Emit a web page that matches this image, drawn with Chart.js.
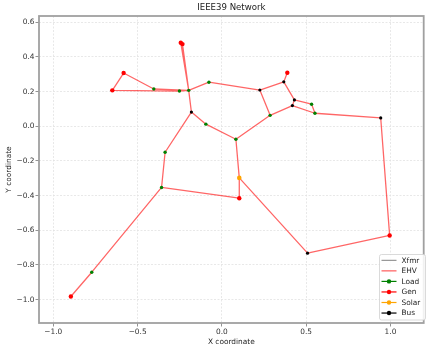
<!DOCTYPE html>
<html>
<head>
<meta charset="utf-8">
<script src="https://cdn.jsdelivr.net/npm/chart.js@4.4.1/dist/chart.umd.min.js"></script>
<style>
  html, body { margin: 0; padding: 0; background: #fff; }
</style>
</head>
<body>
<canvas id="network" width="426" height="344"></canvas>
<script>
// node positions, one pair of arrays per node type
const genX = [-0.650, -0.583, -0.244, -0.234, 0.388, 0.103, 0.995, -0.896];
const genY = [0.207, 0.307, 0.482, 0.474, 0.309, -0.415, -0.630, -0.982];
const loadX = [-0.404, -0.252, -0.197, -0.077, -0.095, -0.337, -0.358, -0.772, 0.083, 0.286, 0.532, 0.552];
const loadY = [0.215, 0.203, 0.207, 0.254, 0.012, -0.150, -0.353, -0.842, -0.075, 0.063, 0.127, 0.075];
const solarX = [0.103];
const solarY = [-0.298];
const busX = [-0.181, 0.225, 0.367, 0.430, 0.418, 0.942, 0.508];
const busY = [0.082, 0.209, 0.256, 0.152, 0.119, 0.048, -0.732];

// branches as pairs of node ids (G = gen, L = load, S = solar, B = bus, 1-based)
const ehvLines = [
	["G1", "G2"], ["G2", "L1"], ["L1", "L3"], ["G1", "L2"], ["L2", "L3"],
	["G3", "L3"], ["G4", "L3"], ["L3", "B1"], ["L3", "L4"], ["L4", "B2"],
	["B2", "B3"], ["B3", "G5"], ["B3", "B4"], ["B2", "L10"], ["L10", "B5"],
	["B4", "B5"], ["B4", "L11"], ["L11", "L12"], ["B5", "L12"], ["L12", "B6"],
	["B6", "G7"], ["G7", "B7"], ["B7", "S1"], ["S1", "G6"], ["S1", "L9"],
	["L10", "L9"], ["L9", "L5"], ["L5", "B1"], ["B1", "L6"], ["L6", "L7"],
	["L7", "G6"], ["L7", "L8"], ["L8", "G8"],
];
const xfmrLines = [];

const xTicks = [-1.0, -0.5, 0.0, 0.5, 1.0];
const yTicks = [-1.0, -0.8, -0.6, -0.4, -0.2, 0.0, 0.2, 0.4, 0.6];

const nodeTable = {
	G: [genX, genY],
	L: [loadX, loadY],
	S: [solarX, solarY],
	B: [busX, busY],
};

function node(id) {
	const [xs, ys] = nodeTable[id[0]];
	const i = parseInt(id.slice(1), 10) - 1;
	return { x: xs[i], y: ys[i] };
}

function points(xs, ys) {
	return xs.map((x, i) => ({ x: x, y: ys[i] }));
}

// every branch becomes two points followed by a gap
function segments(lines) {
	const out = [];
	lines.forEach(([a, b]) => {
		out.push(node(a), node(b), { x: null, y: null });
	});
	return out;
}

const FONT = "'DejaVu Sans', sans-serif";
const minus = (v) => v.toFixed(1).replace("-", "\u2212");

const legendItems = [
	{ label: "Xfmr", line: "#808080", width: 1 },
	{ label: "EHV", line: "rgba(255,0,0,0.6)", width: 1.3 },
	{ label: "Load", line: "#008000", dot: "#008000" },
	{ label: "Gen", line: "#ff0000", dot: "#ff0000" },
	{ label: "Solar", line: "#ffa500", dot: "#ffa500" },
	{ label: "Bus", line: "#000000", dot: "#000000" },
];

const decorations = {
	id: "decorations",
	afterDraw(chart) {
		const { ctx, chartArea: a } = chart;
		ctx.save();
		// frame
		ctx.strokeStyle = "#a0a0a0";
		ctx.lineWidth = 1.8;
		ctx.strokeRect(a.left, a.top, a.right - a.left, a.bottom - a.top);

		// title
		ctx.fillStyle = "#222";
		ctx.font = "8.6px " + FONT;
		ctx.textAlign = "center";
		ctx.textBaseline = "middle";
		ctx.fillText("IEEE39 Network", (a.left + a.right) / 2, 8);

		// legend
		const bx = 379.5, by = 254.5, bw = 46, bh = 65.5;
		ctx.beginPath();
		ctx.roundRect(bx, by, bw, bh, 2);
		ctx.fillStyle = "rgba(255,255,255,0.85)";
		ctx.fill();
		ctx.strokeStyle = "#d0d0d0";
		ctx.lineWidth = 0.8;
		ctx.stroke();
		ctx.font = "7.4px " + FONT;
		ctx.textAlign = "left";
		legendItems.forEach((it, i) => {
			const y = 260.3 + i * 10.55;
			ctx.beginPath();
			ctx.moveTo(381.5, y);
			ctx.lineTo(396.5, y);
			ctx.strokeStyle = it.line;
			ctx.lineWidth = it.width || 1.2;
			ctx.stroke();
			if (it.dot) {
				ctx.beginPath();
				ctx.arc(389, y, 2.2, 0, Math.PI * 2);
				ctx.fillStyle = it.dot;
				ctx.fill();
			}
			ctx.fillStyle = "#222";
			ctx.fillText(it.label, 401.5, y + 0.5);
		});
		ctx.restore();
	},
};

const markerSet = (label, data, color, radius) => ({
	label: label,
	data: data,
	backgroundColor: color,
	borderColor: color,
	borderWidth: 0,
	pointRadius: radius,
	pointHoverRadius: radius,
	showLine: false,
	order: 1,
});

new Chart(document.getElementById("network"), {
	type: "scatter",
	data: {
		datasets: [
			markerSet("Load", points(loadX, loadY), "#008000", 1.7),
			markerSet("Gen", points(genX, genY), "#ff0000", 2.2),
			markerSet("Solar", points(solarX, solarY), "#ffa500", 2.3),
			markerSet("Bus", points(busX, busY), "#000000", 1.6),
			{
				label: "Xfmr",
				data: segments(xfmrLines),
				showLine: true,
				spanGaps: false,
				borderColor: "#808080",
				borderWidth: 1,
				pointRadius: 0,
				order: 4,
			},
			{
				label: "EHV",
				data: segments(ehvLines),
				showLine: true,
				spanGaps: false,
				borderColor: "rgba(255,0,0,0.6)",
				borderWidth: 1.3,
				pointRadius: 0,
				order: 5,
			},
		],
	},
	options: {
		responsive: false,
		devicePixelRatio: 1,
		animation: false,
		layout: { padding: { top: 16, right: 1, left: 0, bottom: 0 } },
		plugins: {
			legend: { display: false },
			tooltip: { enabled: false },
		},
		scales: {
			x: {
				type: "linear",
				min: -1.085,
				max: 1.197,
				afterBuildTicks: (s) => { s.ticks = xTicks.map((v) => ({ value: v })); },
				afterFit: (s) => { s.height = 21; },
				ticks: {
					callback: (v) => minus(v),
					font: { family: FONT, size: 7.4 },
					color: "#333",
					padding: 1,
					maxRotation: 0,
				},
				grid: { color: "#e2e2e2", lineWidth: 0.8, tickColor: "#777", tickLength: 3.5, tickWidth: 0.8 },
				border: { display: false, dash: [2, 1.5] },
				title: {
					display: true,
					text: "X coordinate",
					font: { family: FONT, size: 7.4, lineHeight: 0.6 },
					color: "#222",
					padding: 0,
				},
			},
			y: {
				type: "linear",
				min: -1.135,
				max: 0.636,
				afterBuildTicks: (s) => { s.ticks = yTicks.map((v) => ({ value: v })); },
				afterFit: (s) => { s.width = 39; },
				ticks: {
					callback: (v) => minus(v),
					font: { family: FONT, size: 7.4 },
					color: "#333",
					padding: 1,
				},
				grid: { color: "#e2e2e2", lineWidth: 0.8, tickColor: "#777", tickLength: 3.5, tickWidth: 0.8 },
				border: { display: false, dash: [2, 1.5] },
				title: {
					display: true,
					text: "Y coordinate",
					font: { family: FONT, size: 7.4 },
					color: "#222",
					padding: { top: 4.6, bottom: 0 },
				},
			},
		},
	},
	plugins: [decorations],
});
</script>
</body>
</html>
